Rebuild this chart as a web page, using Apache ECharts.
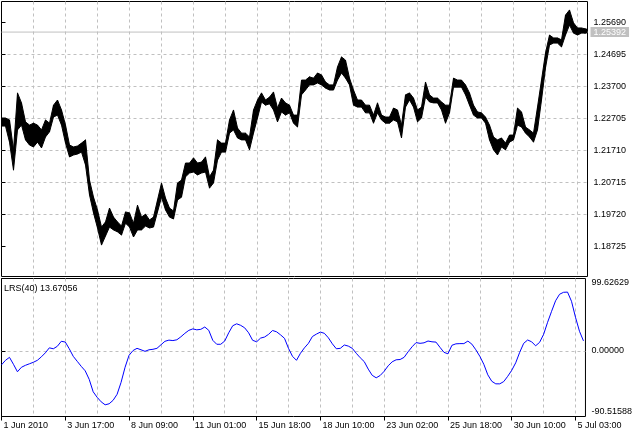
<!DOCTYPE html>
<html><head><meta charset="utf-8">
<script src="https://cdn.jsdelivr.net/npm/echarts@6/dist/echarts.min.js"></script>
<style>html,body{margin:0;padding:0;background:#fff}#c{width:635px;height:433px}</style>
</head><body><div id="c"></div>
<script>
// ---- data (hourly bars, read every 4 bars: high / low) ----
const xTickLabels = ['1 Jun 2010','3 Jun 17:00','8 Jun 09:00','11 Jun 01:00','15 Jun 18:00',
  '18 Jun 10:00','23 Jun 02:00','25 Jun 18:00','30 Jun 10:00','5 Jul 03:00'];
const priceTicks = [1.18725,1.19720,1.20715,1.21710,1.22705,1.23700,1.24695,1.25690];
const priceHigh = [1.2272,1.2272,1.2266,1.2173,1.2350,1.2319,1.2260,1.2250,1.2256,1.2250,
1.2235,1.2266,1.2256,1.2312,1.2328,1.2297,1.2250,1.2188,1.2182,1.2185,
1.2194,1.2204,1.2079,1.2026,1.1986,1.1933,1.1949,1.1992,1.1964,1.1949,
1.1936,1.1980,1.1977,1.1945,1.2001,1.1964,1.1973,1.1955,1.1964,1.2017,
1.2070,1.2023,1.1992,1.1983,1.2070,1.2079,1.2132,1.2132,1.2148,1.2132,
1.2135,1.2151,1.2089,1.2110,1.2204,1.2194,1.2194,1.2266,1.2297,1.2241,
1.2225,1.2225,1.2213,1.2297,1.2328,1.2350,1.2328,1.2337,1.2353,1.2303,
1.2334,1.2319,1.2312,1.2281,1.2281,1.2390,1.2390,1.2400,1.2396,1.2412,
1.2406,1.2384,1.2375,1.2375,1.2431,1.2462,1.2452,1.2396,1.2359,1.2328,
1.2328,1.2312,1.2312,1.2281,1.2319,1.2281,1.2275,1.2275,1.2303,1.2297,
1.2250,1.2344,1.2350,1.2334,1.2297,1.2306,1.2384,1.2344,1.2334,1.2334,
1.2322,1.2312,1.2312,1.2396,1.2390,1.2390,1.2375,1.2350,1.2312,1.2291,
1.2288,1.2275,1.2250,1.2213,1.2204,1.2210,1.2194,1.2219,1.2219,1.2303,
1.2291,1.2244,1.2235,1.2225,1.2306,1.2390,1.2474,1.2530,1.2521,1.2521,
1.2515,1.2592,1.2608,1.2568,1.2552,1.2552,1.2549];
const priceLow = [1.2247,1.2247,1.2197,1.2110,1.2235,1.2250,1.2204,1.2188,1.2182,1.2197,
1.2179,1.2213,1.2229,1.2275,1.2281,1.2250,1.2194,1.2151,1.2157,1.2160,
1.2166,1.2126,1.2033,1.1977,1.1930,1.1877,1.1905,1.1933,1.1924,1.1918,
1.1908,1.1945,1.1933,1.1902,1.1924,1.1924,1.1936,1.1930,1.1933,1.1980,
1.2026,1.1986,1.1964,1.1958,1.2017,1.2026,1.2089,1.2101,1.2104,1.2095,
1.2101,1.2104,1.2054,1.2070,1.2141,1.2166,1.2166,1.2225,1.2235,1.2210,
1.2204,1.2204,1.2173,1.2225,1.2272,1.2322,1.2312,1.2316,1.2297,1.2260,
1.2291,1.2281,1.2288,1.2256,1.2244,1.2344,1.2359,1.2375,1.2375,1.2381,
1.2375,1.2365,1.2359,1.2359,1.2390,1.2412,1.2396,1.2375,1.2312,1.2306,
1.2306,1.2288,1.2288,1.2256,1.2288,1.2266,1.2256,1.2256,1.2266,1.2260,
1.2210,1.2306,1.2328,1.2306,1.2260,1.2272,1.2337,1.2322,1.2319,1.2319,
1.2297,1.2256,1.2288,1.2368,1.2368,1.2368,1.2344,1.2312,1.2281,1.2272,
1.2272,1.2256,1.2204,1.2173,1.2157,1.2182,1.2173,1.2197,1.2204,1.2250,
1.2244,1.2225,1.2213,1.2197,1.2235,1.2328,1.2428,1.2499,1.2505,1.2505,
1.2493,1.2530,1.2561,1.2536,1.2530,1.2536,1.2536];
const lrsValues = [-19.3,-13.1,-9.0,-18.6,-28.9,-22.7,-20.0,-17.9,-15.8,-13.1,
-8.3,-2.8,4.1,2.8,6.2,13.1,12.1,2.8,-7.6,-14.5,
-21.4,-27.6,-39.3,-56.5,-64.1,-70.3,-74.4,-73.0,-68.2,-59.9,
-43.4,-22.7,-6.2,0.4,3.4,1.4,-0.7,1.4,2.1,3.4,
8.3,13.1,14.7,14.1,15.2,19.3,24.1,28.2,30.2,28.9,
29.6,32.8,28.2,14.5,9.0,9.0,13.5,24.8,34.5,37.2,
35.1,31.7,24.8,14.5,12.4,17.5,19.0,22.7,28.0,26.2,
22.0,17.2,3.4,-7.6,-13.1,-3.4,4.1,10.3,19.7,23.0,
25.8,24.1,17.9,9.6,2.8,3.4,8.0,6.5,3.4,-3.4,
-9.6,-14.9,-25.2,-33.8,-37.2,-34.0,-28.2,-20.7,-15.2,-12.4,
-12.0,-9.0,-1.4,5.5,11.3,10.3,11.0,13.5,12.4,12.0,
4.8,-2.1,-4.1,7.6,9.6,9.9,9.9,13.4,9.2,1.4,
-7.6,-18.6,-33.1,-42.0,-45.5,-45.5,-42.4,-35.1,-26.9,-16.5,
-2.1,10.3,14.9,12.4,6.9,11.7,22.7,39.3,54.4,68.9,
77.9,80.6,80.9,68.2,46.2,26.9,13.67056];
const currentPrice = 1.25392;
const lrsMax = 99.62629;
const lrsMin = -90.51588;
const lrsLabel = 'LRS(40)';

// ---- chart ----
const BASE = priceTicks[0];
const STEP = 0.00995;
const AXIS_TOP = 1.26343, AXIS_BOTTOM = 1.17792;
const FONT = '"Liberation Sans", Arial, sans-serif';
const GRID_COLOR = '#c0c0c0';
const N = priceHigh.length;
const XMAX = 146.5;
const labelIdx = xTickLabels.map((_, k) => k * 16);
const dashed = {show: true, showMinLine: false, showMaxLine: false,
  lineStyle: {color: GRID_COLOR, type: [3, 3], width: 1}};
const txt = {fontFamily: FONT, fontSize: 9, color: '#000'};

const chart = echarts.init(document.getElementById('c'), null, {renderer: 'canvas'});
chart.setOption({
  animation: false,
  backgroundColor: '#fff',
  title: {text: lrsLabel + ' ' + lrsValues[N - 1].toFixed(5), left: 4, top: 284.5, padding: 0,
    textStyle: Object.assign({fontWeight: 'normal'}, txt)},
  grid: [
    {left: 1.5, top: 1.5, width: 586, height: 275, show: true, borderColor: '#000', borderWidth: 1},
    {left: 1.5, top: 278.5, width: 586, height: 138, show: true, borderColor: '#000', borderWidth: 1}
  ],
  xAxis: [
    {gridIndex: 0, type: 'value', min: 0, max: XMAX, interval: 8,
      axisLine: {show: false}, axisTick: {show: false}, axisLabel: {show: false}, splitLine: dashed},
    {gridIndex: 1, type: 'value', min: 0, max: XMAX, interval: 8,
      axisLine: {show: false}, axisTick: {show: false}, axisLabel: {show: false}, splitLine: dashed},
    {gridIndex: 1, type: 'value', min: 0, max: XMAX, interval: 16, position: 'bottom',
      axisLine: {show: false},
      axisTick: {show: true, length: 4, customValues: labelIdx, lineStyle: {color: '#000'}},
      axisLabel: Object.assign({customValues: labelIdx, align: 'left', margin: 5, padding: [0, 0, 0, 2],
        formatter: v => { const k = Math.round(v / 16); return (Math.abs(v - k * 16) < 1e-6 && xTickLabels[k]) || ''; }}, txt),
      splitLine: {show: false}}
  ],
  yAxis: [
    {gridIndex: 0, type: 'value', position: 'right', min: AXIS_BOTTOM - BASE, max: AXIS_TOP - BASE, interval: STEP,
      axisLine: {show: false},
      axisTick: {show: true, length: 4, customValues: priceTicks.map(p => p - BASE), lineStyle: {color: '#000'}},
      axisLabel: Object.assign({customValues: priceTicks.map(p => p - BASE), margin: 6, hideOverlap: false,
        formatter: v => (v + BASE).toFixed(5)}, txt),
      splitLine: dashed},
    {gridIndex: 1, type: 'value', position: 'right', min: lrsMin, max: lrsMax, interval: 100,
      axisLine: {show: false},
      axisTick: {show: true, length: 4, customValues: [lrsMin, 0, lrsMax], lineStyle: {color: '#000'}},
      axisLabel: Object.assign({customValues: [lrsMin, 0, lrsMax], margin: 6, showMinLabel: true, showMaxLabel: true,
        verticalAlignMinLabel: 'bottom', verticalAlignMaxLabel: 'top',
        formatter: v => v.toFixed(5)}, txt),
      splitLine: dashed}
  ],
  series: [
    {type: 'line', xAxisIndex: 0, yAxisIndex: 0, z: 1, silent: true, symbol: 'none',
      data: [[0, currentPrice - BASE], [XMAX, currentPrice - BASE]],
      lineStyle: {color: GRID_COLOR, width: 1, type: 'solid'},
      endLabel: {show: true, distance: 3, formatter: () => currentPrice.toFixed(5),
        color: '#fff', backgroundColor: GRID_COLOR, fontFamily: FONT, fontSize: 9,
        padding: [1, 3, 0, 3], lineHeight: 9}},
    {type: 'custom', xAxisIndex: 0, yAxisIndex: 0, z: 3, clip: true, silent: true,
      data: priceHigh.map((h, i) => [i, priceLow[i] - BASE, h - BASE]),
      encode: {x: 0, y: [1, 2]},
      renderItem: (params, api) => {
        const i = params.dataIndexInside;
        const x = api.value(0);
        const t0 = api.coord([x, api.value(2)]);
        const b0 = api.coord([x, api.value(1)]);
        let pts;
        if (i < params.dataInsideLength - 1) {
          const x1 = api.value(0, i + 1);
          const t1 = api.coord([x1, api.value(2, i + 1)]);
          const b1 = api.coord([x1, api.value(1, i + 1)]);
          pts = [t0, t1, b1, b0];
        } else {
          pts = [[t0[0] - 1, t0[1]], [t0[0] + 1, t0[1]], [b0[0] + 1, b0[1]], [b0[0] - 1, b0[1]]];
        }
        return {type: 'polygon', shape: {points: pts},
          style: {fill: '#000', stroke: '#000', lineWidth: 1}};
      }},
    {type: 'line', xAxisIndex: 1, yAxisIndex: 1, z: 4, silent: true, symbol: 'none',
      data: lrsValues.map((v, i) => [i, v]),
      lineStyle: {color: '#0000ff', width: 1}}
  ]
});
</script></body></html>
